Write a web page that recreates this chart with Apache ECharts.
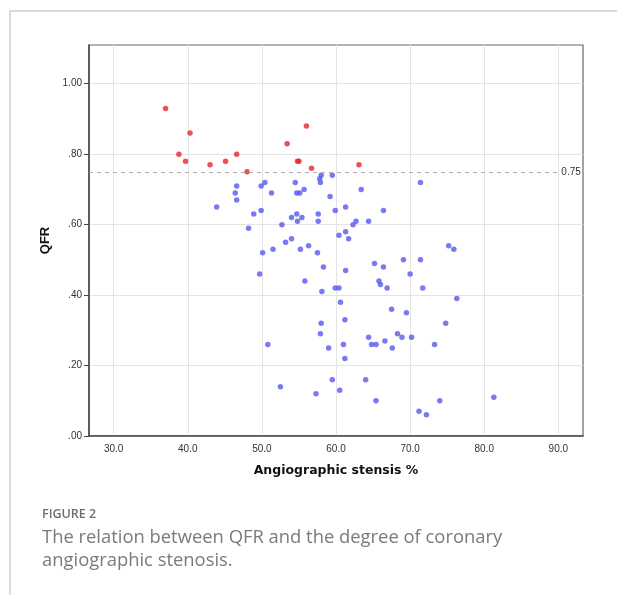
<!DOCTYPE html>
<html>
<head>
<meta charset="utf-8">
<script src="https://cdn.jsdelivr.net/npm/echarts@6/dist/echarts.min.js"></script>
<style>
  html, body { margin: 0; padding: 0; background: #fff; }
  #main { width: 617px; height: 595px; }
</style>
</head>
<body>
<div id="main"></div>
<script>
// 数据：[狭窄程度 %, QFR]
const xTicks = [30, 40, 50, 60, 70, 80, 90]
const yTicks = [0, 0.2, 0.4, 0.6, 0.8, 1.0]
const cutoff = 0.75

// QFR > 0.75 (red)
const highPoints = [
  [37.0, 0.93], [38.8, 0.80], [39.7, 0.78], [40.3, 0.86], [43.0, 0.77],
  [45.1, 0.78], [46.6, 0.80], [48.0, 0.75], [53.4, 0.83], [54.8, 0.78],
  [55.0, 0.78], [56.0, 0.88], [56.7, 0.76], [63.1, 0.77]
]

// QFR <= 0.75 (blue)
const lowPoints = [
  [43.9, 0.65], [46.6, 0.71], [46.4, 0.69], [46.6, 0.67], [48.2, 0.59],
  [48.9, 0.63], [49.9, 0.71], [50.4, 0.72], [49.9, 0.64], [51.3, 0.69],
  [52.7, 0.60], [53.2, 0.55], [54.0, 0.56], [54.5, 0.72], [54.7, 0.69],
  [55.1, 0.69], [55.7, 0.70], [54.0, 0.62], [54.7, 0.63], [54.8, 0.61],
  [55.4, 0.62], [56.3, 0.54], [55.2, 0.53], [51.5, 0.53], [50.1, 0.52],
  [57.5, 0.52], [49.7, 0.46], [55.8, 0.44],
  [57.8, 0.73], [58.0, 0.74], [57.9, 0.72], [59.5, 0.74], [59.2, 0.68],
  [63.4, 0.70], [71.4, 0.72], [59.9, 0.64], [61.3, 0.65], [57.6, 0.63],
  [57.6, 0.61], [66.4, 0.64], [64.4, 0.61], [62.3, 0.60], [62.7, 0.61],
  [60.4, 0.57], [61.3, 0.58], [61.7, 0.56], [75.2, 0.54], [75.9, 0.53],
  [58.3, 0.48], [61.3, 0.47], [58.1, 0.41], [59.9, 0.42], [60.4, 0.42],
  [60.6, 0.38], [65.2, 0.49], [66.4, 0.48], [69.1, 0.50], [71.4, 0.50],
  [65.8, 0.44], [66.0, 0.43], [66.9, 0.42], [70.0, 0.46], [71.7, 0.42],
  [76.3, 0.39], [67.5, 0.36], [69.5, 0.35], [74.8, 0.32], [61.2, 0.33],
  [58.0, 0.32], [57.9, 0.29], [59.0, 0.25], [61.0, 0.26], [61.2, 0.22],
  [64.4, 0.28], [64.8, 0.26], [65.4, 0.26], [66.6, 0.27], [67.6, 0.25],
  [68.3, 0.29], [68.9, 0.28], [70.2, 0.28], [73.3, 0.26], [50.8, 0.26],
  [59.5, 0.16], [64.0, 0.16], [52.5, 0.14], [57.3, 0.12], [60.5, 0.13],
  [65.4, 0.10], [74.0, 0.10], [81.3, 0.11], [71.2, 0.07], [72.2, 0.06]
]

const xMin = 26.67, xMax = 93.33
const yMin = 0, yMax = 1.11

const chart = echarts.init(document.getElementById('main'))

const option = {
  backgroundColor: '#fff',
  animation: false,
  grid: {
    left: 89, top: 45, width: 494, height: 391,
    show: true, borderColor: '#666', borderWidth: 1.2
  },
  xAxis: {
    type: 'value', min: xMin, max: xMax,
    name: 'Angiographic stensis %',
    nameLocation: 'middle', nameGap: 28,
    nameTextStyle: { fontFamily: 'DejaVu Sans', fontSize: 12.5, fontWeight: 'bold', color: '#111' },
    axisLine: { show: true, lineStyle: { color: '#444', width: 1.5 } },
    axisTick: { show: false, customValues: xTicks },
    axisLabel: {
      customValues: xTicks, margin: 8,
      fontFamily: 'Liberation Sans', fontSize: 10, color: '#333',
      formatter: v => v.toFixed(1)
    },
    splitLine: { show: true, lineStyle: { color: '#e4e4e4', width: 1 } }
  },
  yAxis: {
    type: 'value', min: yMin, max: yMax,
    name: 'QFR',
    nameLocation: 'middle', nameGap: 34, nameRotate: 90,
    nameTextStyle: { fontFamily: 'Liberation Sans', fontSize: 13, fontWeight: 'bold', color: '#111' },
    axisLine: { show: true, lineStyle: { color: '#444', width: 1.5 } },
    axisTick: { show: true, length: 5, customValues: yTicks, lineStyle: { color: '#444' } },
    axisLabel: {
      customValues: yTicks, margin: 7,
      fontFamily: 'Liberation Sans', fontSize: 10, color: '#333',
      formatter: v => v >= 1 ? v.toFixed(2) : v.toFixed(2).replace(/^0/, '')
    },
    splitLine: { show: true, lineStyle: { color: '#e4e4e4', width: 1 } }
  },
  series: [
    {
      type: 'scatter', data: lowPoints, symbolSize: 5.5,
      itemStyle: { color: '#5757f0' }
    },
    {
      type: 'scatter', data: highPoints, symbolSize: 5.5,
      itemStyle: { color: '#e8262b' },
      markLine: {
        silent: true, symbol: 'none',
        lineStyle: { type: [4, 4], color: '#b0b0b0', width: 1.2 },
        label: {
          position: 'end', distance: 3, formatter: String(cutoff),
          fontFamily: 'Liberation Sans', fontSize: 10, color: '#333'
        },
        data: [[{ coord: [xMin, cutoff] }, { coord: [xTicks[xTicks.length - 1], cutoff] }]]
      }
    }
  ],
  graphic: [
    {
      type: 'polyline', silent: true,
      shape: { points: [[10, 600], [10, 11], [620, 11]] },
      style: { stroke: '#cfcfcf', lineWidth: 1.5, fill: null }
    },
    {
      type: 'text', left: 42, top: 508,
      style: { text: 'FIGURE 2', fontFamily: 'Open Sans', fontSize: 12.5, fontWeight: 600, fill: '#6e6e6e' }
    },
    {
      type: 'text', left: 42, top: 526,
      style: {
        text: 'The relation between QFR and the degree of coronary\nangiographic stenosis.',
        fontFamily: 'Open Sans', fontSize: 18.4, lineHeight: 23, fill: '#7a7a7a'
      }
    }
  ]
}

chart.setOption(option)
</script>
</body>
</html>
